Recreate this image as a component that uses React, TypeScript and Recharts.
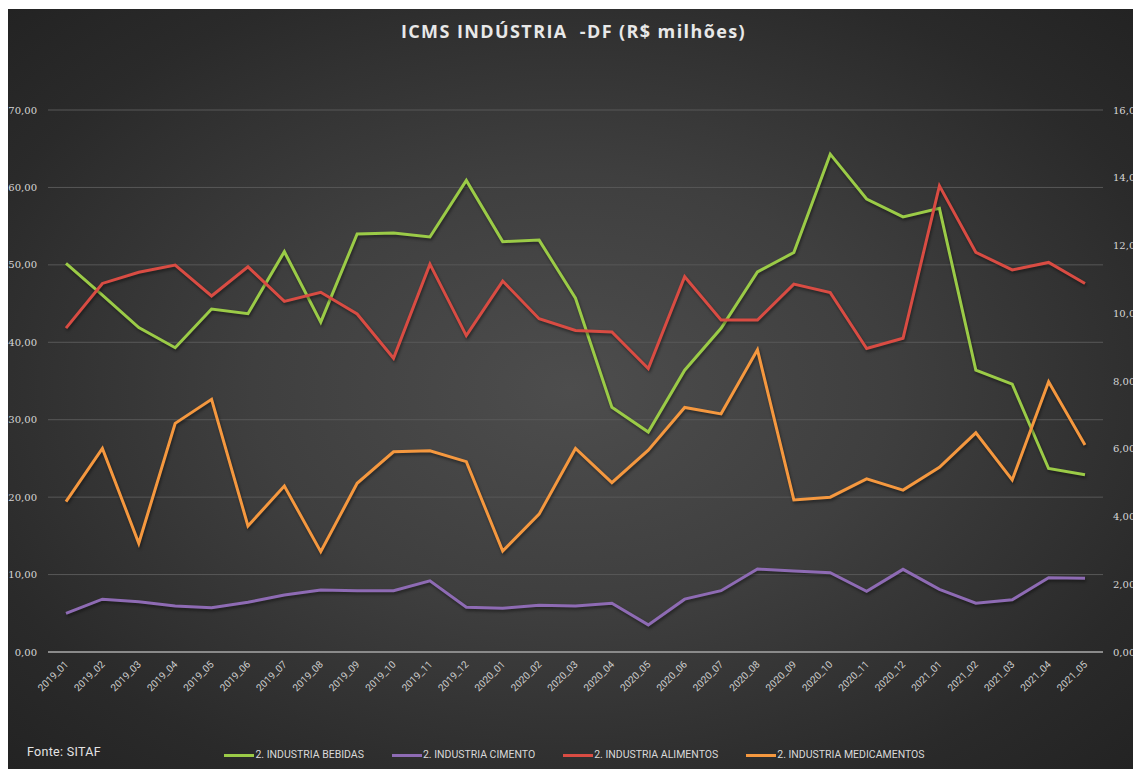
import { CartesianGrid, Legend, Line, LineChart, XAxis, YAxis } from "recharts";

const months = [
  "2019_01", "2019_02", "2019_03", "2019_04", "2019_05", "2019_06", "2019_07", "2019_08",
  "2019_09", "2019_10", "2019_11", "2019_12", "2020_01", "2020_02", "2020_03", "2020_04",
  "2020_05", "2020_06", "2020_07", "2020_08", "2020_09", "2020_10", "2020_11", "2020_12",
  "2021_01", "2021_02", "2021_03", "2021_04", "2021_05",
];

// eixo esquerdo
const bebidas = [
  50.2, 46.1, 41.9, 39.3, 44.3, 43.7, 51.7, 42.6, 54.0, 54.1, 53.6, 60.9, 53.0, 53.2, 45.7,
  31.6, 28.4, 36.4, 41.8, 49.1, 51.6, 64.3, 58.5, 56.2, 57.3, 36.4, 34.6, 23.7, 22.9,
];

// eixo direito
const cimento = [
  1.14, 1.56, 1.48, 1.36, 1.31, 1.47, 1.68, 1.83, 1.81, 1.81, 2.1, 1.32, 1.29, 1.38, 1.36,
  1.44, 0.8, 1.56, 1.81, 2.45, 2.39, 2.34, 1.79, 2.44, 1.85, 1.44, 1.54, 2.19, 2.18,
];
const alimentos = [
  9.56, 10.88, 11.21, 11.42, 10.51, 11.37, 10.35, 10.62, 9.98, 8.67, 11.45, 9.34, 10.95, 9.84,
  9.49, 9.45, 8.37, 11.08, 9.8, 9.8, 10.86, 10.61, 8.96, 9.26, 13.76, 11.8, 11.28, 11.5, 10.88,
];
const medicamentos = [
  4.44, 6.01, 3.21, 6.75, 7.46, 3.72, 4.9, 2.96, 4.98, 5.91, 5.94, 5.62, 2.98, 4.07, 6.01,
  5.0, 5.96, 7.22, 7.03, 8.92, 4.49, 4.57, 5.11, 4.78, 5.45, 6.47, 5.08, 7.98, 6.11,
];

const leftTicks = [0, 10, 20, 30, 40, 50, 60, 70];
const rightTicks = [0, 2, 4, 6, 8, 10, 12, 14, 16];

const series = [
  { key: "bebidas", name: "2. INDUSTRIA BEBIDAS", color: "#9bcb47", axis: "left" },
  { key: "cimento", name: "2. INDUSTRIA CIMENTO", color: "#8e6bb4", axis: "right" },
  { key: "alimentos", name: "2. INDUSTRIA ALIMENTOS", color: "#d94c43", axis: "right" },
  { key: "medicamentos", name: "2. INDUSTRIA MEDICAMENTOS", color: "#f5983f", axis: "right" },
];

const data = months.map((m, i) => ({
  month: m,
  bebidas: bebidas[i],
  cimento: cimento[i],
  alimentos: alimentos[i],
  medicamentos: medicamentos[i],
}));

const fmt = (v: number) => v.toFixed(2).replace(".", ",");

const tickStyle = { fill: "#d6d6d6", fontSize: 10, fontFamily: "DejaVu Serif" };

const MonthTick = ({ x, y, payload }: any) => (
  <g transform={`translate(${x + 3},${y + 5})`}>
    <text
      textAnchor="end"
      transform="rotate(-45)"
      fill="#cfcfcf"
      fontSize={10}
      fontFamily="Roboto"
    >
      {payload.value}
    </text>
  </g>
);

const LegendBox = () => (
  <div
    style={{
      display: "flex",
      justifyContent: "center",
      gap: 28,
      height: 16,
      lineHeight: "16px",
      paddingLeft: 8,
      fontFamily: "Roboto",
      fontSize: 10.5,
      color: "#d9d9d9",
    }}
  >
    {series.map((s) => (
      <div key={s.key} style={{ display: "flex", alignItems: "center" }}>
        <span style={{ width: 30, height: 3, background: s.color, marginRight: 1 }} />
        <span>{s.name}</span>
      </div>
    ))}
  </div>
);

export default function App() {
  return (
    <div
      style={{
        position: "absolute",
        left: 8,
        top: 9,
        width: 1125,
        height: 760,
        background:
          "radial-gradient(ellipse at 50% 50%, #4d4d4d 0%, #3f3f3f 40%, #2a2a2a 80%, #232323 100%)",
        overflow: "hidden",
      }}
    >
      <div
        style={{
          position: "absolute",
          top: 10,
          left: 0,
          width: 1125,
          paddingLeft: 6,
          boxSizing: "border-box",
          textAlign: "center",
          whiteSpace: "pre",
          fontFamily: "Open Sans",
          fontWeight: 700,
          fontSize: 18,
          letterSpacing: 1.4,
          color: "#e8e8e8",
        }}
      >
        {"ICMS INDÚSTRIA  -DF (R$ milhões)"}
      </div>
      <div
        style={{
          position: "absolute",
          left: 19,
          top: 735,
          fontFamily: "Roboto",
          fontSize: 12.5,
          letterSpacing: 0.3,
          color: "#e4e4e4",
        }}
      >
        Fonte: SITAF
      </div>
      <LineChart
        width={1125}
        height={760}
        data={data}
        margin={{ top: 101, right: 0, left: 0, bottom: 6 }}
      >
        <CartesianGrid yAxisId="left" vertical={false} stroke="#585858" strokeWidth={1} />
        <XAxis
          dataKey="month"
          interval={0}
          height={95}
          padding={{ left: 18, right: 18 }}
          tickLine={false}
          axisLine={{ stroke: "#8a8a8a", strokeWidth: 2 }}
          tick={<MonthTick />}
        />
        <YAxis
          yAxisId="left"
          orientation="left"
          width={40}
          domain={[0, 70]}
          ticks={leftTicks}
          tickFormatter={fmt}
          axisLine={false}
          tickLine={false}
          tickSize={0}
          tickMargin={11}
          tick={tickStyle}
        />
        <YAxis
          yAxisId="right"
          orientation="right"
          width={30}
          domain={[0, 16]}
          ticks={rightTicks}
          tickFormatter={fmt}
          axisLine={false}
          tickLine={false}
          tickSize={0}
          tickMargin={10}
          tick={{ ...tickStyle, textAnchor: "start" }}
        />
        <Legend verticalAlign="bottom" content={<LegendBox />} />
        {series.map((s) => (
          <Line
            key={s.key}
            yAxisId={s.axis}
            dataKey={s.key}
            name={s.name}
            stroke={s.color}
            strokeWidth={3}
            dot={false}
            type="linear"
            isAnimationActive={false}
            style={{ filter: "drop-shadow(1px 2px 1.5px rgba(0,0,0,0.45))" }}
          />
        ))}
      </LineChart>
    </div>
  );
}
